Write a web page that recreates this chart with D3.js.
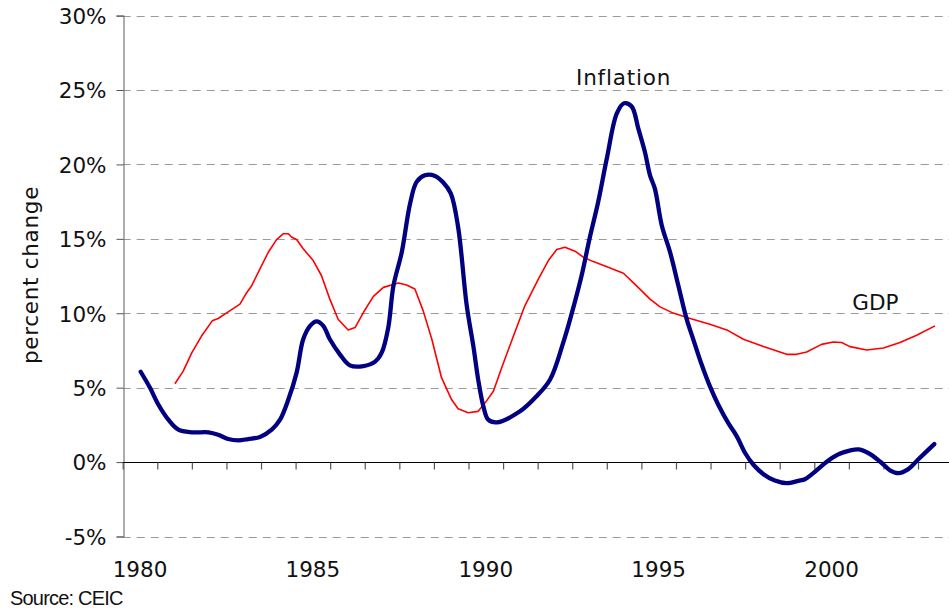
<!DOCTYPE html>
<html>
<head>
<meta charset="utf-8">
<script src="https://cdn.jsdelivr.net/npm/d3@7"></script>
<style>
  body { margin: 0; background: #fff; }
  svg { display: block; }
</style>
</head>
<body>
<svg id="chart" width="949" height="615"></svg>
<script>
// ---- data ----
const yTicks = [-5, 0, 5, 10, 15, 20, 25, 30];
const xLabelYears = [1980, 1985, 1990, 1995, 2000];
const tickYears = d3.range(1980, 2004);

const inflYears = [1980.52,1980.79,1981.03,1981.32,1981.61,1982.00,1982.48,1982.76,1983.05,1983.34,1983.63,1983.97,1984.31,1984.55,1984.79,1985.03,1985.22,1985.42,1985.61,1985.80,1985.99,1986.28,1986.57,1986.96,1987.30,1987.49,1987.68,1987.83,1988.07,1988.31,1988.50,1988.74,1989.03,1989.27,1989.49,1989.70,1989.95,1990.14,1990.28,1990.43,1990.57,1990.82,1991.49,1991.97,1992.36,1992.74,1992.98,1993.27,1993.51,1993.75,1994.00,1994.29,1994.50,1994.72,1994.91,1995.10,1995.25,1995.39,1995.59,1995.83,1996.07,1996.31,1996.50,1996.74,1996.98,1997.22,1997.51,1997.76,1998.00,1998.24,1998.53,1998.86,1999.20,1999.54,1999.73,1999.97,2000.31,2000.55,2000.84,2001.27,2001.56,2001.90,2002.19,2002.43,2002.72,2003.01,2003.47];
const inflValues = [6.07,4.99,3.87,2.85,2.18,2.00,2.00,1.84,1.55,1.46,1.55,1.69,2.18,2.85,4.20,6.01,8.25,9.15,9.45,9.15,8.25,7.24,6.50,6.45,6.75,7.35,9.04,11.85,14.10,17.36,18.83,19.27,19.23,18.78,18.04,15.79,10.50,7.80,5.55,3.75,2.85,2.67,3.41,4.43,5.55,8.03,9.94,12.52,15.11,17.48,20.40,23.43,24.11,23.89,22.42,20.85,19.27,18.37,15.90,14.10,11.85,9.60,8.25,6.57,5.10,3.87,2.63,1.73,0.61,-0.18,-0.81,-1.24,-1.42,-1.26,-1.15,-0.74,-0.07,0.34,0.65,0.85,0.61,0.04,-0.55,-0.74,-0.47,0.19,1.21];

const gdpYears = [1981.51,1981.75,1982.00,1982.28,1982.59,1982.76,1983.05,1983.39,1983.59,1983.73,1983.97,1984.21,1984.45,1984.64,1984.79,1984.89,1985.03,1985.22,1985.51,1985.75,1985.99,1986.23,1986.52,1986.72,1986.96,1987.25,1987.54,1987.97,1988.21,1988.45,1988.69,1988.94,1989.22,1989.51,1989.70,1989.99,1990.28,1990.48,1990.72,1990.96,1991.30,1991.63,1992.02,1992.31,1992.55,1992.79,1993.08,1993.32,1993.61,1994.04,1994.48,1994.81,1995.25,1995.54,1995.92,1996.41,1996.98,1997.47,1997.95,1998.53,1999.20,1999.49,1999.78,2000.21,2000.55,2000.79,2001.03,2001.52,2002.00,2002.48,2002.96,2003.49];
const gdpValues = [5.26,6.11,7.35,8.47,9.49,9.65,10.09,10.61,11.40,11.85,12.98,14.10,14.95,15.34,15.34,15.11,14.95,14.33,13.54,12.52,10.95,9.60,8.88,9.04,10.05,11.13,11.74,12.03,11.90,11.63,10.16,8.25,5.67,4.20,3.58,3.31,3.41,3.98,4.76,6.34,8.47,10.50,12.30,13.54,14.28,14.44,14.17,13.77,13.47,13.09,12.69,11.96,10.95,10.43,10.01,9.65,9.26,8.88,8.25,7.76,7.24,7.24,7.40,7.91,8.07,8.03,7.76,7.53,7.67,8.03,8.52,9.15];

const inflation = inflYears.map((t, i) => ({t, v: inflValues[i]}));
const gdp = gdpYears.map((t, i) => ({t, v: gdpValues[i]}));

// ---- layout ----
const svg = d3.select('#chart');
const W = 949, H = 615;
const x = d3.scaleLinear().domain([1980, 2004]).range([122.7, 952.6]);
const y = d3.scaleLinear().domain([-5, 30]).range([536.5, 15.6]);
const FONT = '"DejaVu Sans", Verdana, sans-serif';

svg.append('rect').attr('width', W).attr('height', H).attr('fill', '#fff');

// gridlines
svg.append('g').selectAll('line')
  .data(yTicks.filter(d => d !== 0))
  .join('line')
  .attr('x1', x(1980)).attr('x2', W)
  .attr('y1', d => Math.round(y(d)) + 0.5).attr('y2', d => Math.round(y(d)) + 0.5)
  .attr('stroke', '#9a9a9a').attr('stroke-width', 1)
  .attr('stroke-dasharray', '8,6');

// y axis
const yAxis = svg.append('g')
  .attr('transform', `translate(${Math.round(x(1980)) + 0.5},0)`)
  .call(d3.axisLeft(y).tickValues(yTicks).tickFormat(d => d + '%').tickSize(7).tickPadding(10));
yAxis.select('.domain').attr('stroke', '#777').attr('stroke-width', 1.2);
yAxis.selectAll('.tick line').attr('stroke', '#555');
yAxis.selectAll('.tick text')
  .attr('font-family', FONT).attr('font-size', '21.5px').attr('fill', '#111')
  .attr('dy', '0.36em');

// x axis at 0%
const xAxis = svg.append('g')
  .attr('transform', `translate(0,${Math.round(y(0)) + 0.5})`)
  .call(d3.axisBottom(x).tickValues(tickYears).tickFormat('').tickSize(7).tickSizeOuter(0));
xAxis.select('.domain').attr('stroke', '#000').attr('stroke-width', 1.2)
  .attr('d', `M${x(1980)},0H${W}`);
xAxis.selectAll('.tick line').attr('stroke', '#555').attr('stroke-width', 1.2);

// x labels (centred in each year)
svg.append('g').selectAll('text')
  .data(xLabelYears)
  .join('text')
  .attr('x', d => x(d + 0.5))
  .attr('y', y(-5) + 40.5)
  .attr('text-anchor', 'middle')
  .attr('font-family', FONT).attr('font-size', '21.5px').attr('fill', '#111')
  .text(d => d);

// lines
const lineSmooth = d3.line().x(d => x(d.t)).y(d => y(d.v)).curve(d3.curveCatmullRom.alpha(0.5));
const lineGdp = d3.line().x(d => x(d.t)).y(d => y(d.v)).curve(d3.curveLinear);

svg.append('path').datum(gdp)
  .attr('d', lineGdp)
  .attr('fill', 'none').attr('stroke', '#ff0000').attr('stroke-width', 1.6)
  .attr('stroke-linejoin', 'round');

svg.append('path').datum(inflation)
  .attr('d', lineSmooth)
  .attr('fill', 'none').attr('stroke', '#000080').attr('stroke-width', 4.3)
  .attr('stroke-linejoin', 'round').attr('stroke-linecap', 'round');

// series labels
svg.append('text')
  .attr('x', x(1993.11)).attr('y', y(25.35))
  .attr('font-family', FONT).attr('font-size', '21.5px').attr('letter-spacing', '0.8px').attr('fill', '#111')
  .text('Inflation');
svg.append('text')
  .attr('x', x(2001.1)).attr('y', y(10.2))
  .attr('font-family', FONT).attr('font-size', '21.5px').attr('fill', '#111')
  .text('GDP');

// y axis title
svg.append('text')
  .attr('transform', `translate(38,275) rotate(-90)`)
  .attr('text-anchor', 'middle')
  .attr('font-family', FONT).attr('font-size', '21.5px').attr('letter-spacing', '0.7px').attr('fill', '#111')
  .text('percent change');

// source
svg.append('text')
  .attr('x', 10).attr('y', 605)
  .attr('font-family', '"Liberation Sans", Arial, sans-serif').attr('font-size', '20px')
  .attr('letter-spacing', '-0.8px').attr('fill', '#111')
  .text('Source: CEIC');
</script>
</body>
</html>
